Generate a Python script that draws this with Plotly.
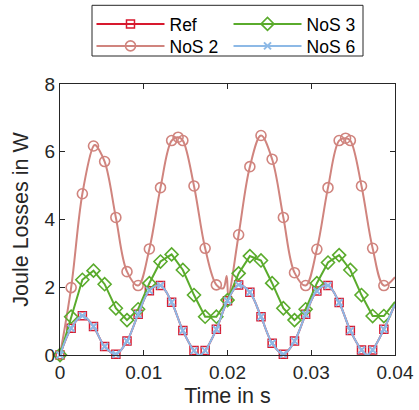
import plotly.graph_objects as go

# ---------------- data ----------------
t_reg = [0.0, 0.00133, 0.00267, 0.00400, 0.00533, 0.00667, 0.00800, 0.00933,
         0.01067, 0.01200, 0.01333, 0.01467, 0.01600, 0.01733, 0.01867, 0.02000,
         0.02133, 0.02267, 0.02400, 0.02533, 0.02667, 0.02800, 0.02933, 0.03067,
         0.03200, 0.03333, 0.03467, 0.03600, 0.03733, 0.03867]

ref_v = [0.0, 0.79, 1.16, 0.84, 0.25, 0.02, 0.41, 1.20, 1.90, 2.05, 1.56, 0.72,
         0.13, 0.13, 0.76, 1.60, 2.07, 1.85, 1.13, 0.35, 0.02, 0.41, 1.20, 1.89,
         2.05, 1.55, 0.72, 0.15, 0.15, 0.76]
ref_extra_t = [0.01667, 0.03667, 0.04]
ref_extra_v = [0.0, 0.0, 1.50]

nos6_v = [0.0, 0.79, 1.16, 0.84, 0.25, 0.02, 0.41, 1.20, 1.90, 2.05, 1.56, 0.72,
          0.13, 0.13, 0.76, 1.60, 2.07, 1.85, 1.13, 0.35, 0.02, 0.41, 1.20, 1.89,
          2.05, 1.55, 0.72, 0.15, 0.15, 0.76]
nos6_extra_t = [0.01667, 0.03667, 0.04]
nos6_extra_v = [0.0, 0.0, 1.50]

nos3_v = [0.0, 1.13, 2.22, 2.49, 2.09, 1.38, 1.03, 1.35, 2.12, 2.76, 2.97, 2.51,
          1.77, 1.13, 1.13, 1.62, 2.41, 2.92, 2.79, 2.12, 1.38, 1.03, 1.35, 2.12,
          2.73, 2.95, 2.51, 1.77, 1.15, 1.15]
nos3_extra_t = [0.04]
nos3_extra_v = [1.57]

nos2_t = [0.0, 0.00133, 0.00267, 0.00400, 0.00533, 0.00667, 0.00800, 0.00933,
          0.01067, 0.01200, 0.01333, 0.01410, 0.01467, 0.01600, 0.01733, 0.01867,
          0.02133, 0.02267, 0.02400, 0.02533, 0.02667, 0.02800, 0.02933, 0.03067,
          0.03200, 0.03333, 0.03410, 0.03467, 0.03600, 0.03733, 0.03867]
nos2_v = [0.0, 1.99, 4.76, 6.17, 5.71, 4.06, 2.46, 2.05, 3.13, 4.94, 6.33, 6.43,
          6.33, 4.99, 3.15, 2.07, 3.55, 5.56, 6.48, 5.78, 4.06, 2.43, 2.05, 3.12,
          4.94, 6.33, 6.40, 6.33, 4.99, 3.15, 2.05]
nos2_extra_t = [0.00420, 0.01950, 0.01990, 0.02010, 0.04]
nos2_extra_v = [6.20, 1.97, 2.33, 1.74, 2.30]

x_ticks = [0, 0.01, 0.02, 0.03, 0.04]
x_ticklabels = ["0", "0.01", "0.02", "0.03", "0.04"]
y_ticks = [0, 2, 4, 6, 8]

# ---------------- styling ----------------
C_REF = "#D7192E"
C_NOS2 = "#D0847E"
C_NOS3 = "#5AAB2C"
C_NOS6 = "#8DB9E6"
AX = "#262626"
FONT = "Liberation Sans, Arial, Helvetica, sans-serif"

fig = go.Figure()


def merged(t, v, et, ev):
    pts = sorted(list(zip(t, v)) + list(zip(et, ev)))
    return [p[0] for p in pts], [p[1] for p in pts]


def add_series(name, t, v, et, ev, color, shape, symbol, msize, mline, legend):
    lt, lv = merged(t, v, et, ev)
    fig.add_trace(go.Scatter(x=lt, y=lv, mode="lines", showlegend=False,
                             line=dict(color=color, width=2, shape=shape),
                             hoverinfo="skip"))
    mk = dict(symbol=symbol, size=msize, color=color,
              line=dict(color=color, width=mline))
    fig.add_trace(go.Scatter(x=t, y=v, mode="markers", showlegend=False,
                             marker=mk, cliponaxis=False))
    fig.add_trace(go.Scatter(x=[None], y=[None], mode="lines+markers", name=name,
                             line=dict(color=color, width=2), marker=mk,
                             legend=legend))


add_series("Ref", t_reg, ref_v, ref_extra_t, ref_extra_v, C_REF, "spline",
           "square-open", 8, 1.5, "legend")
add_series("NoS 2", nos2_t, nos2_v, nos2_extra_t, nos2_extra_v, C_NOS2, "spline",
           "circle-open", 10, 1.6, "legend2")
add_series("NoS 3", t_reg, nos3_v, nos3_extra_t, nos3_extra_v, C_NOS3, "linear",
           "diamond-open", 10, 1.6, "legend3")
add_series("NoS 6", t_reg, nos6_v, nos6_extra_t, nos6_extra_v, C_NOS6, "spline",
           "x-thin", 7, 2, "legend4")

axis_common = dict(showline=True, linecolor=AX, linewidth=1, mirror="ticks",
                   ticks="inside", ticklen=5, tickcolor=AX, tickwidth=1,
                   showgrid=False, zeroline=False, automargin=False,
                   tickfont=dict(family=FONT, size=19, color=AX))


def leg(x, y):
    return dict(x=x, y=y, xanchor="left", yanchor="top", borderwidth=0,
                bgcolor="rgba(0,0,0,0)", itemwidth=68, tracegroupgap=0,
                font=dict(family=FONT, size=17.5, color="black"))


ROW1 = 1.2878
ROW2 = 1.2066
COL1 = 0.094
COL2 = 0.503

fig.update_layout(
    template="none",
    width=419, height=410,
    margin=dict(l=60, r=24, t=84, b=55, autoexpand=False),
    paper_bgcolor="white", plot_bgcolor="white",
    font=dict(family=FONT, color=AX),
    xaxis=dict(range=[0, 0.04], tickvals=x_ticks, ticktext=x_ticklabels,
               title=dict(text="Time in s", font=dict(family=FONT, size=21.5, color=AX),
                          standoff=6),
               **axis_common),
    yaxis=dict(range=[0, 8], tickvals=y_ticks,
               title=dict(text="Joule Losses in W", font=dict(family=FONT, size=21.5, color=AX),
                          standoff=10),
               **axis_common),
    legend=leg(COL1, ROW1),
    legend2=leg(COL1, ROW2),
    legend3=leg(COL2, ROW1),
    legend4=leg(COL2, ROW2),
    shapes=[dict(type="rect", xref="paper", yref="paper",
                 x0=(92 - 60) / 335, x1=(363 - 60) / 335,
                 y0=(355 - 56) / 271, y1=(355 - 5.3) / 271,
                 line=dict(color=AX, width=1), fillcolor="white", layer="below")],
)

fig.write_html("out.html", config={"displayModeBar": False},
               post_script="document.body.style.margin='0';document.body.style.padding='0';")
